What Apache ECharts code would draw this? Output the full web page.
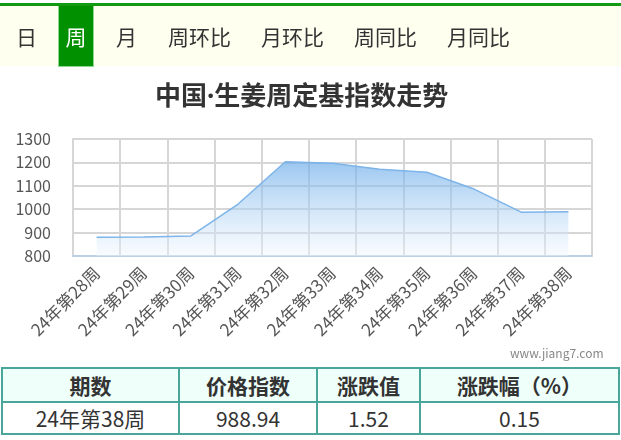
<!DOCTYPE html>
<html>
<head>
<meta charset="utf-8">
<script src="https://cdn.jsdelivr.net/npm/echarts@6/dist/echarts.min.js"></script>
<style>
  body { margin: 0; width: 621px; height: 440px; background: #fff; position: relative; overflow: hidden;
         font-family: "Noto Sans CJK SC", "Noto Sans", sans-serif; color: #333; }
  #topline { position: absolute; left: 0; top: 3px; width: 621px; height: 3px; background: #129a12; }
  #tabs { position: absolute; left: 0; top: 6px; width: 621px; height: 60px; background: #fffff0; }
  .tab { position: absolute; top: 0; height: 60px; line-height: 60px; font-size: 21px; color: #333; }
  .tab.on { background: #009000; color: #fff; border: 1px solid #8fd88f; border-top: none; width: 34px; text-align: center; }
  #chart { position: absolute; left: 0; top: 0; width: 621px; height: 366px; }
  table { position: absolute; left: 1px; top: 367px; width: 619px; border-collapse: collapse; font-size: 21px; }
  td, th { border: 2px solid #4aa59a; text-align: center; padding: 0; color: #333; }
  th { background: #effffa; height: 32px; font-weight: bold; }
  td { height: 28px; }
</style>
</head>
<body>
<div id="chart"></div>
<div id="topline"></div>
<div id="tabs">
  <div class="tab" style="left:16px">日</div>
  <div class="tab on" style="left:58px">周</div>
  <div class="tab" style="left:116px">月</div>
  <div class="tab" style="left:168px">周环比</div>
  <div class="tab" style="left:261px">月环比</div>
  <div class="tab" style="left:354px">周同比</div>
  <div class="tab" style="left:447px">月同比</div>
</div>
<table>
  <tr><th style="width:175px">期数</th><th style="width:136px">价格指数</th><th style="width:101px">涨跌值</th><th>涨跌幅（%）</th></tr>
  <tr><td>24年第38周</td><td>988.94</td><td>1.52</td><td>0.15</td></tr>
</table>
<script>
// weekly ginger index
const weeks = ["24年第28周", "24年第29周", "24年第30周", "24年第31周", "24年第32周", "24年第33周",
  "24年第34周", "24年第35周", "24年第36周", "24年第37周", "24年第38周"];
const indexValues = [880, 881, 886, 1022, 1203, 1196, 1171, 1158, 1086, 987.42, 988.94];

const chart = echarts.init(document.getElementById("chart"));
const font = '"Noto Sans CJK SC", "Noto Sans", sans-serif';

chart.setOption({
  animation: false,
  title: {
    text: "中国·生姜周定基指数走势",
    left: 150,
    top: 80,
    textStyle: { fontSize: 26, fontWeight: "bold", color: "#333", fontFamily: '"Noto Sans", "Noto Sans CJK SC", sans-serif' }
  },
  graphic: [{
    type: "text", left: 510, top: 347,
    style: { text: "www.jiang7.com", fontSize: 12, fill: "#888", fontFamily: font }
  }],
  grid: { left: 73, top: 139, width: 519, height: 117 },
  xAxis: {
    type: "category",
    data: weeks,
    boundaryGap: true,
    axisLine: { lineStyle: { color: "#bcd0e4", width: 2 } },
    axisTick: { length: 14, lineStyle: { color: "#c6d6e6", width: 2 } },
    splitLine: { show: true, lineStyle: { color: "#d6d6d6", width: 2 } },
    axisLabel: { rotate: 45, margin: 14, fontSize: 17, color: "#555", fontFamily: font, interval: 0 }
  },
  yAxis: {
    type: "value",
    min: 800, max: 1300, interval: 100,
    axisLine: { show: true, lineStyle: { color: "#d6d6d6", width: 2 } },
    axisTick: { show: false },
    splitLine: { lineStyle: { color: "#d6d6d6", width: 2 } },
    axisLabel: { margin: 22, fontSize: 16, color: "#555", fontFamily: font, formatter: v => String(v) }
  },
  series: [{
    type: "line",
    data: indexValues,
    showSymbol: false,
    lineStyle: { color: "#7db4ea", width: 1.5 },
    areaStyle: {
      origin: "start",
      color: new echarts.graphic.LinearGradient(0, 0, 0, 1, [
        { offset: 0, color: "rgba(100,168,232,0.92)" },
        { offset: 1, color: "rgba(240,246,254,0.6)" }
      ])
    }
  }]
});
</script>
</body>
</html>
